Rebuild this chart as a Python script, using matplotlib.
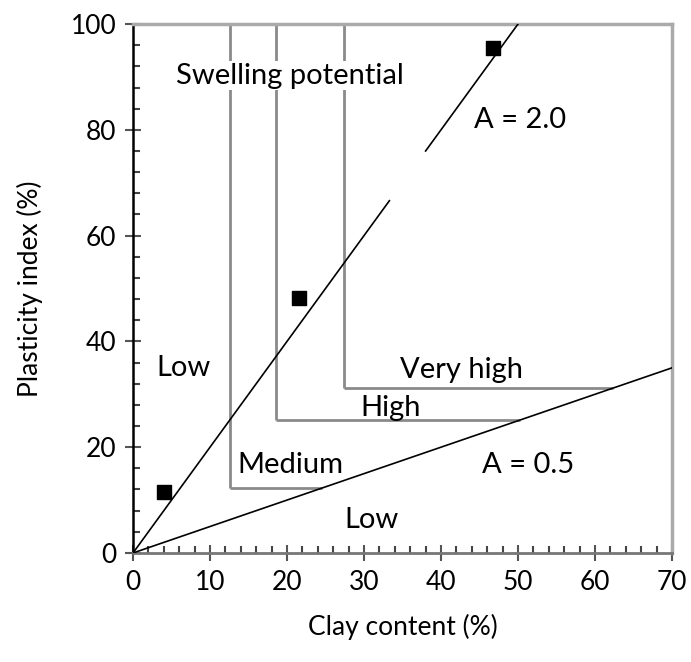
import numpy as np
import matplotlib.pyplot as plt
from matplotlib.ticker import MultipleLocator

plt.rcParams['font.family'] = ['Lato', 'DejaVu Sans']

# sample points (clay content %, plasticity index %)
clay = [4.0, 21.5, 46.7]
pi_vals = [11.5, 48.2, 95.5]

# activity lines A = PI / clay
activity_hi = 2.0
activity_lo = 0.5
hi_seg1 = [0.0, 33.3]
hi_seg2 = [38.0, 50.0]
lo_seg = [0.0, 70.0]

# swelling potential boundaries: (clay limit, PI limit)
box_clay = [12.6, 18.6, 27.4]
box_pi = [12.3, 25.1, 31.2]

gray = '#8a8a8a'

fig = plt.figure(figsize=(6.91, 6.62), dpi=100)
ax = fig.add_axes([0.1925, 0.1647, 0.78, 0.7990])

# swelling potential boxes: vertical from top down, horizontal out to the A=0.5 line
for cx, py in zip(box_clay, box_pi):
    ax.plot([cx, cx], [100, py], color=gray, lw=2, solid_capstyle='butt', zorder=2)
    ax.plot([cx, py / activity_lo], [py, py], color=gray, lw=2, solid_capstyle='butt', zorder=2)

# activity lines
for seg in (hi_seg1, hi_seg2):
    xs = np.array(seg)
    ax.plot(xs, activity_hi * xs, color='black', lw=1.2, zorder=3)
xs = np.array(lo_seg)
ax.plot(xs, activity_lo * xs, color='black', lw=1.2, zorder=3)

ax.scatter(clay, pi_vals, marker='s', s=90, color='black', zorder=4)

fs = 19
ft = 21
ax.text(20.4, 90.2, 'Swelling potential', ha='center', va='center', fontsize=ft,
        bbox=dict(facecolor='white', edgecolor='none', pad=1), zorder=5)
ax.text(50.3, 81.9, 'A = 2.0', ha='center', va='center', fontsize=ft)
ax.text(6.6, 35.0, 'Low', ha='center', va='center', fontsize=ft)
ax.text(42.7, 34.6, 'Very high', ha='center', va='center', fontsize=ft)
ax.text(33.4, 27.4, 'High', ha='center', va='center', fontsize=ft)
ax.text(20.4, 16.6, 'Medium', ha='center', va='center', fontsize=ft)
ax.text(51.3, 16.6, 'A = 0.5', ha='center', va='center', fontsize=ft)
ax.text(31.0, 6.2, 'Low', ha='center', va='center', fontsize=ft)

ax.set_xlim(0, 70)
ax.set_ylim(0, 100)
ax.xaxis.set_major_locator(MultipleLocator(10))
ax.xaxis.set_minor_locator(MultipleLocator(2))
ax.yaxis.set_major_locator(MultipleLocator(20))
ax.yaxis.set_minor_locator(MultipleLocator(4))
ax.tick_params(which='major', direction='inout', length=12, width=1.5, colors='#555555',
               labelcolor='black', labelsize=fs, pad=6)
ax.tick_params(which='minor', direction='in', length=5, width=1.5, colors='#444444')

ax.spines['left'].set_color('black')
ax.spines['left'].set_linewidth(1.8)
ax.spines['bottom'].set_color('#777777')
ax.spines['bottom'].set_linewidth(2)
for s in ('top', 'right'):
    ax.spines[s].set_color('#aaaaaa')
    ax.spines[s].set_linewidth(2.5)

ax.set_xlabel('Clay content (%)', fontsize=fs, labelpad=14)
ax.set_ylabel('Plasticity index (%)', fontsize=fs, labelpad=20)

fig.savefig('out.png', dpi=100)
